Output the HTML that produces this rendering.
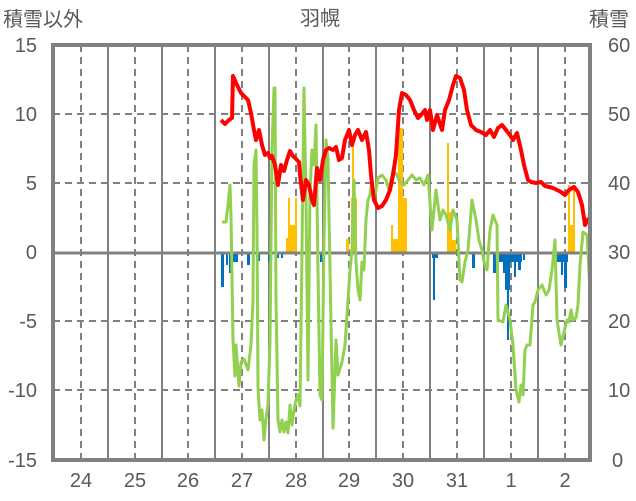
<!DOCTYPE html>
<html><head><meta charset="utf-8"><style>
html,body{margin:0;padding:0;background:#fff;}
svg{display:block;font-family:"Liberation Sans","Noto Sans CJK JP",sans-serif;}
</style></head><body>
<svg width="636" height="501" viewBox="0 0 636 501">
<g fill="#595959" font-size="20">
<text x="3" y="26">積雪以外</text>
<text x="320" y="25" text-anchor="middle">羽幌</text>
<text x="589" y="26">積雪</text>
<g text-anchor="end">
<text x="37" y="52">15</text><text x="37" y="121">10</text><text x="37" y="190">5</text><text x="37" y="259">0</text><text x="37" y="328">-5</text><text x="37" y="397">-10</text><text x="37" y="467">-15</text>
</g>
<g text-anchor="start">
<text x="608" y="52">60</text><text x="608" y="121">50</text><text x="608" y="190">40</text><text x="608" y="259">30</text><text x="608" y="328">20</text><text x="608" y="397">10</text><text x="612" y="467">0</text>
</g>
<g text-anchor="middle">
<text x="81" y="487">24</text><text x="135" y="487">25</text><text x="188" y="487">26</text><text x="242" y="487">27</text><text x="296" y="487">28</text><text x="349" y="487">29</text><text x="403" y="487">30</text><text x="457" y="487">31</text><text x="511" y="487">1</text><text x="565" y="487">2</text>
</g>
</g>
<g stroke="#808080" stroke-width="2" fill="none">
<g stroke-dasharray="7,5">
<path d="M53 114H590M53 183H590M53 321H590M53 390H590"/>
<path d="M81 45V460M135 45V460M188 45V460M242 45V460M296 45V460M349 45V460M403 45V460M457 45V460M511 45V460M565 45V460"/>
</g>
<path d="M108 45V460M162 45V460M215 45V460M269 45V460M323 45V460M376 45V460M430 45V460M484 45V460M538 45V460"/>
</g>
<g fill="#FFC000">
<rect x="286" y="238" width="3" height="15"/><rect x="288" y="198" width="2" height="55"/><rect x="290" y="225" width="6" height="28"/><rect x="295" y="198" width="2" height="55"/>
<rect x="346" y="239" width="3" height="14"/><rect x="351" y="198" width="6" height="55"/><rect x="352" y="140" width="2" height="113"/>
<rect x="391" y="225" width="2" height="28"/><rect x="392" y="239" width="6" height="14"/><rect x="398" y="128" width="5" height="125"/><rect x="403" y="198" width="4" height="55"/>
<rect x="447" y="143" width="2" height="110"/><rect x="448" y="212" width="4" height="41"/><rect x="448" y="240" width="8" height="13"/>
<rect x="568" y="225" width="6" height="28"/><rect x="568" y="185" width="2" height="68"/><rect x="573" y="185" width="2" height="68"/>
</g>
<g fill="#0070C0">
<rect x="221" y="253" width="3" height="34"/><rect x="226" y="253" width="2" height="12"/><rect x="229" y="253" width="3" height="20"/><rect x="233" y="253" width="5" height="9"/>
<rect x="247" y="253" width="3" height="12"/><rect x="256" y="253" width="2" height="27"/><rect x="258" y="253" width="2" height="8"/><rect x="268" y="253" width="4" height="9"/><rect x="276" y="253" width="3" height="5"/><rect x="281" y="253" width="2" height="5"/>
<rect x="320" y="253" width="5" height="9"/><rect x="322" y="253" width="2" height="13"/>
<rect x="432" y="253" width="6" height="5"/><rect x="433" y="253" width="2" height="47"/>
<rect x="472" y="253" width="3" height="15"/><rect x="493" y="253" width="3" height="20"/>
<rect x="499" y="253" width="23" height="9"/><rect x="503" y="253" width="3" height="20"/><rect x="505" y="253" width="5" height="37"/><rect x="507" y="253" width="2" height="87"/><rect x="514" y="253" width="2" height="24"/><rect x="518" y="253" width="3" height="17"/><rect x="523" y="253" width="2" height="7"/>
<rect x="556" y="253" width="12" height="9"/><rect x="561" y="253" width="2" height="22"/><rect x="564" y="253" width="3" height="35"/>
</g>
<path d="M53 253H590" stroke="#808080" stroke-width="3"/>
<polyline fill="none" stroke="#92D050" stroke-width="3" stroke-linejoin="round" points="222,222 226,222 228,205 230,185 231,215 233,340 235,376 236,345 239,386 241,362 244,359 248,370 251,345 253,300 254,165 256,150 257,230 258,388 260,420 262,410 264,440 266,418 268,405 270,340 272,150 274,88 275,88 276,300 278,420 280,432 282,420 284,432 286,422 288,433 290,405 292,425 294,410 296,400 298,395 300,406 302,250 304,88 306,200 308,380 310,190 312,150 314,165 316,125 318,270 320,395 322,400 324,240 326,140 328,160 330,270 333,428 336,340 338,375 342,362 345,345 348,300 350,270 352,250 354,180 356,262 358,290 360,300 362,262 364,270 366,220 368,200 370,195 372,180 374,200 376,190 378,178 382,175 386,180 389,190 393,170 397,175 400,182 404,185 408,180 412,175 416,180 420,178 424,185 428,175 432,230 436,190 440,220 443,210 446,215 450,230 453,210 457,220 460,280 462,282 465,262 468,250 472,200 476,220 479,240 482,250 484,262 487,270 490,230 493,215 497,225 498,320 503,322 506,305 510,320 513,345 516,390 519,402 521,385 523,395 525,350 527,345 530,345 533,305 535,302 538,290 542,285 546,295 549,290 552,270 555,240 557,320 561,345 564,332 567,320 569,322 571,310 573,320 576,318 578,305 580,265 583,232 587,235 590,290"/>
<polyline fill="none" stroke="#FF0000" stroke-width="4" stroke-linejoin="round" points="221,120 225,124 229,120 232,118 233,76 237,85 241,93 244,96 248,100 251,113 254,130 256,140 259,130 262,145 265,155 268,153 270,158 272,156 275,165 278,185 281,165 284,171 287,160 290,151 293,156 297,160 299,162 300,175 303,200 306,180 309,185 312,200 314,205 317,168 320,180 323,160 326,150 329,148 333,150 336,147 339,160 342,158 345,140 349,130 352,145 355,135 358,130 362,140 366,132 369,150 371,175 374,200 378,208 382,206 386,200 390,190 393,175 396,155 399,110 402,93 406,95 410,100 414,110 418,118 421,115 425,110 427,120 430,110 433,130 437,115 442,130 445,110 449,100 453,85 456,76 460,78 464,90 467,110 471,125 476,130 481,132 486,135 490,130 494,137 498,128 502,125 506,130 510,135 513,140 517,133 521,150 524,165 528,180 531,182 536,183 541,182 545,186 549,187 553,188 557,190 561,192 565,195 569,190 574,187 578,192 582,205 585,225 589,218"/>
<path d="M220 460H590" stroke="#7030A0" stroke-width="3"/>
<rect x="53" y="45" width="537" height="415" fill="none" stroke="#808080" stroke-width="4"/>
</svg>
</body></html>
